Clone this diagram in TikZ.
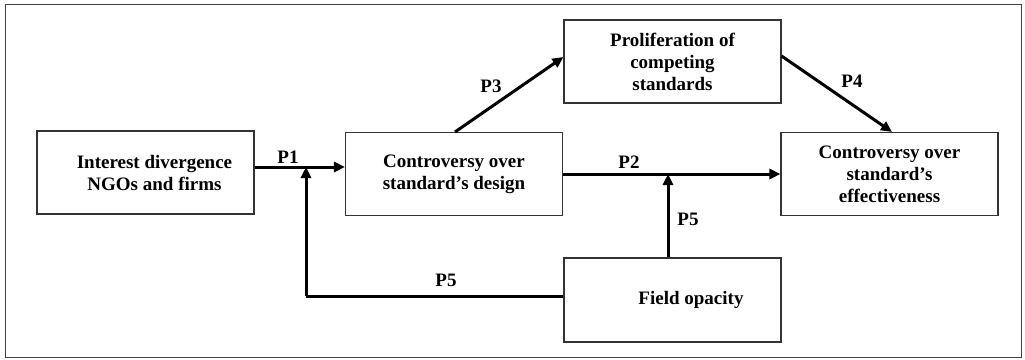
\documentclass[tikz,border=0pt]{standalone}
\usepackage{fontspec}
\setmainfont{Liberation Serif}
\usetikzlibrary{arrows.meta,calc}
\begin{document}
\begin{tikzpicture}[x=1pt,y=-1pt,
  box/.style={draw=black!80,line width=1.1pt,rectangle,minimum width=217pt,minimum height=83pt,inner sep=0pt,align=center,font=\fontsize{19}{22}\selectfont\bfseries},
  arr/.style={line width=3pt,-{Triangle[length=11pt,width=10pt]}},
  ln/.style={line width=3pt},
  lbl/.style={font=\fontsize{19}{22}\selectfont\bfseries,inner sep=0pt}]
\useasboundingbox (0,0) rectangle (1025,359);
\draw[black!75,line width=1pt] (5,4) rectangle (1021,357);
\node[box] (A) at (145.5,172.5) {\hspace*{18pt}Interest divergence\\\hspace*{18pt}NGOs and firms};
\node[box] (B) at (454,174) {Controversy over\\standard's design};
\node[box] (C) at (672.5,61.5) {Proliferation of\\competing\\standards};
\node[box] (D) at (889.5,174) {Controversy over\\standard's\\effectiveness};
\node[box,minimum height=84pt] (E) at (672.5,300) {\hspace*{37pt}Field opacity};
\coordinate (j1) at (306,167);
\coordinate (l5) at (306,296);
\coordinate (j2) at (668,174);
% P1
\draw[arr] (A.east |- j1) -- (B.west |- j1);
% P5 loop
\draw[ln] (E.west |- l5) -- (l5);
\draw[arr] (l5) -- (j1);
% P2
\draw[arr] (B.east) -- (D.west);
% P5 vertical
\draw[arr] (E.north -| j2) -- (j2);
% P3
\draw[arr] (B.north -| 455,0) -- (C.west |- 0,57);
% P4
\draw[arr] (C.east |- 0,56) -- (D.north -| 892,0);
\node[lbl] (p1) at (288,157) {P1};
\node[lbl] (p3) at (491,86) {P3};
\node[lbl] (p4) at (852,81) {P4};
\node[lbl] (p2) at (629,162) {P2};
\node[lbl] (p5a) at (688,219) {P5};
\node[lbl] (p5b) at (446,280) {P5};
\end{tikzpicture}
\end{document}
